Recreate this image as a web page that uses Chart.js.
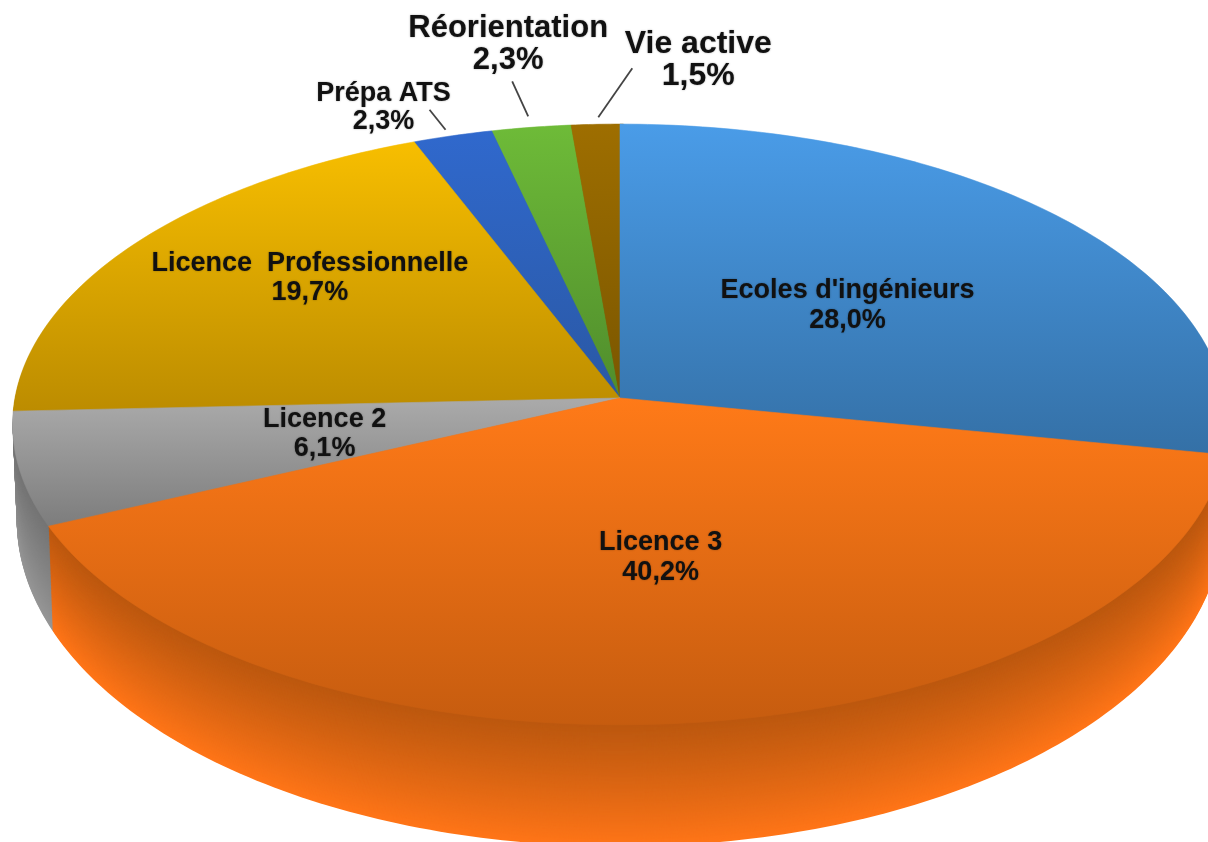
<!DOCTYPE html>
<html lang="fr"><head><meta charset="utf-8">
<style>html,body{margin:0;padding:0;background:#fff;overflow:hidden}canvas{display:block}</style>
<script src="https://cdn.jsdelivr.net/npm/chart.js@4/dist/chart.umd.min.js"></script>
</head><body><canvas id="c" width="1208" height="842"></canvas>
<script>
const categories = ["Ecoles d'ingénieurs","Licence 3","Licence 2","Licence  Professionnelle","Prépa ATS","Réorientation","Vie active"];
const values = [28.0,40.2,6.1,19.7,2.3,2.3,1.5];
const faceLight = ['#4A9CE8','#FF7A18','#A9A9A9','#F7BE00','#3069CE','#6EBB38','#9E6E00'];
const faceDark  = ['#3470A6','#C65C0F','#7C7C7C','#BC8C00','#2A58A4','#4F8C2C','#7A5600'];
const wallDark  = ['#2A5C8C','#BC580F','#747474','#A07800','#23498A','#437724','#664800'];
const wallLight = ['#4A9CE8','#FF7518','#969696','#F7BE00','#3069CE','#6EBB38','#9E6E00'];
// gradient spans of each top face (page y)
const faceSpan = [[124,455],[398,725],[402,528],[143,412],[124,400],[124,400],[124,400]];
// label layout: radial fraction of the anchor, offset of block centre, font px, line gap
const labelLayout = [
 {f:.6,dx:-43,dy:18,size:27,gap:30},
 {f:.6,dx:-5,dy:-28,size:27,gap:30},
 {f:.6,dx:62,dy:-6,size:27,gap:29},
 {f:.6,dx:-14,dy:-25,size:27,gap:29},
 {f:1,dx:-69,dy:-28,size:27,gap:28,lead:[-7,-6,-23,-26]},
 {f:1,dx:-23,dy:-83,size:31,gap:32,lead:[-3,-11,-19,-46]},
 {f:1,dx:101,dy:-64,size:32,gap:32,lead:[1,-7,35,-56]}
];
const view = {x0:620,y0:398,A:605,B:298,p:.088,q:.0067,C0:94,C1:20};
const wallOrder = [5,6,4,3,0,2,1];
// The printed shares add up to 100.1 %, and the picture gives each its share of a 100 % turn.
const sweepDegrees = values.reduce((a,b)=>a+b,0)*3.6;

function project(u,v,h){
  const w = 1 - view.p*v + view.q*h;
  return {x:view.x0 + view.A*u/w, y:view.y0 + (view.B*v + h*(view.C0+view.C1*v))/w};
}
function slicePath(ctx,arc,h){
  const n = Math.max(12,Math.ceil((arc.endAngle-arc.startAngle)*60));
  ctx.beginPath();
  let c = project(0,0,h); ctx.moveTo(c.x,c.y);
  for(let i=0;i<=n;i++){
    const a = arc.startAngle+(arc.endAngle-arc.startAngle)*i/n;
    const p = project(Math.cos(a),Math.sin(a),h); ctx.lineTo(p.x,p.y);
  }
  ctx.closePath();
}
function mix(c1,c2,t){
  const g=(s,i)=>parseInt(s.substr(1+2*i,2),16);
  return 'rgb('+[0,1,2].map(i=>Math.round(g(c1,i)+(g(c2,i)-g(c1,i))*t)).join(',')+')';
}
const pie3d = {
  id:'pie3d',
  beforeDatasetsDraw(chart){
    const ctx=chart.ctx, arcs=chart.getDatasetMeta(0).data;
    ctx.save();
    const steps=130;
    wallOrder.forEach(i=>{
      for(let s=steps;s>0;s--){
        const h=s/steps;
        ctx.fillStyle=mix(wallDark[i],wallLight[i],Math.pow(h,1.1));
        slicePath(ctx,arcs[i],h); ctx.fill();
      }
    });
    wallOrder.forEach(i=>{
      const g=ctx.createLinearGradient(0,faceSpan[i][0],0,faceSpan[i][1]);
      g.addColorStop(0,faceLight[i]); g.addColorStop(1,faceDark[i]);
      ctx.fillStyle=g; ctx.strokeStyle=g; ctx.lineWidth=.6;
      slicePath(ctx,arcs[i],0); ctx.fill(); ctx.stroke();
    });
    ctx.restore();
    return false;
  },
  afterDraw(chart){
    const ctx=chart.ctx, arcs=chart.getDatasetMeta(0).data;
    ctx.save();
    categories.forEach((name,i)=>{
      const L=labelLayout[i], a=(arcs[i].startAngle+arcs[i].endAngle)/2;
      const p=project(L.f*Math.cos(a),L.f*Math.sin(a),0);
      if(L.lead){
        ctx.strokeStyle='#444'; ctx.lineWidth=1.8;
        ctx.beginPath(); ctx.moveTo(p.x+L.lead[0],p.y+L.lead[1]); ctx.lineTo(p.x+L.lead[2],p.y+L.lead[3]); ctx.stroke();
      }
      ctx.font='bold '+L.size+'px "Liberation Sans", Arial, sans-serif';
      ctx.textAlign='center'; ctx.textBaseline='middle';
      ctx.fillStyle='#111'; ctx.shadowColor='rgba(0,0,0,.35)'; ctx.shadowBlur=2;
      const cx=p.x+L.dx, cy=p.y+L.dy;
      ctx.fillText(name,cx,cy-L.gap/2);
      ctx.fillText(values[i].toFixed(1).replace('.',',')+'%',cx,cy+L.gap/2);
      ctx.shadowBlur=0;
    });
    ctx.restore();
  }
};
new Chart(document.getElementById('c'),{
  type:'pie',
  data:{labels:categories,datasets:[{data:values,backgroundColor:faceLight,borderWidth:0}]},
  options:{responsive:false,animation:false,events:[],circumference:sweepDegrees,
    plugins:{legend:{display:false},tooltip:{enabled:false}}},
  plugins:[pie3d]
});
</script></body></html>
